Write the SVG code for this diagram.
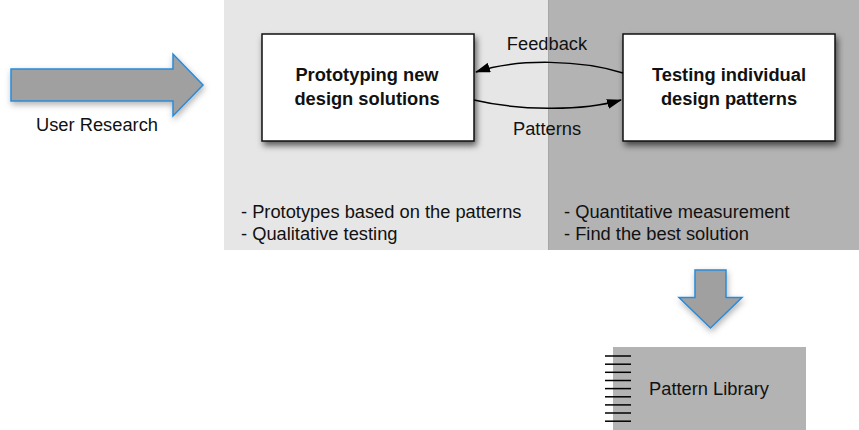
<svg xmlns="http://www.w3.org/2000/svg" width="859" height="430" viewBox="0 0 859 430">
  <defs>
    <filter id="shadow" x="-20%" y="-20%" width="150%" height="160%">
      <feDropShadow dx="2" dy="4" stdDeviation="3" flood-color="#000" flood-opacity="0.6"/>
    </filter>
    <filter id="softshadow" x="-20%" y="-20%" width="150%" height="160%">
      <feDropShadow dx="1" dy="3" stdDeviation="3" flood-color="#000" flood-opacity="0.3"/>
    </filter>
    <marker id="head" viewBox="0 0 15 10" refX="14" refY="5" markerWidth="15" markerHeight="10" markerUnits="userSpaceOnUse" orient="auto">
      <path d="M0,0 L15,5 L0,10 Z" fill="#000"/>
    </marker>
    <style>
      text { font-family: "Liberation Sans", Arial, Helvetica, sans-serif; font-size: 18.3px; fill: #111; }
      .bold { font-weight: bold; }
      .mid { text-anchor: middle; }
      .node { fill: #fff; stroke: #111; stroke-width: 1.5; }
      .bigarrow { fill: #a0a0a0; stroke: #2a8ad8; stroke-width: 1.5; stroke-linejoin: miter; }
      .conn { fill: none; stroke: #000; stroke-width: 1.5; }
    </style>
  </defs>

  <g id="panels">
    <rect x="224" y="0" width="324" height="250" fill="#e6e6e6"/>
    <rect x="548" y="0" width="311" height="250" fill="#b3b3b3"/>
    <line x1="548.5" y1="0" x2="548.5" y2="250" stroke="#a6a6a6" stroke-width="1"/>
    <text x="241" y="218">- Prototypes based on the patterns</text>
    <text x="241" y="240">- Qualitative testing</text>
    <text x="564" y="218">- Quantitative measurement</text>
    <text x="564" y="240">- Find the best solution</text>
  </g>

  <g id="user-research">
    <path class="bigarrow" filter="url(#softshadow)" d="M11,69 L173,69 L173,54 L203,85 L173,116 L173,101 L11,101 Z"/>
    <text class="mid" x="97" y="131">User Research</text>
  </g>

  <g id="node-prototyping">
    <rect class="node" filter="url(#shadow)" x="262" y="34" width="212" height="107"/>
    <text class="bold mid" x="367" y="81">Prototyping new</text>
    <text class="bold mid" x="367" y="105">design solutions</text>
  </g>

  <g id="node-testing">
    <rect class="node" filter="url(#shadow)" x="623" y="34" width="212" height="107"/>
    <text class="bold mid" x="729" y="81">Testing individual</text>
    <text class="bold mid" x="729" y="105">design patterns</text>
  </g>

  <g id="connectors">
    <path class="conn" marker-end="url(#head)" d="M623,73 C582,60 518,58 476,72"/>
    <text class="mid" x="547" y="50">Feedback</text>
    <path class="conn" marker-end="url(#head)" d="M474,100 C516,110 580,112 621,100"/>
    <text class="mid" x="547" y="135">Patterns</text>
  </g>

  <g id="down-arrow">
    <path class="bigarrow" filter="url(#softshadow)" d="M695,270 L726,270 L726,297.5 L742,297.5 L710.5,328 L679,297.5 L695,297.5 Z"/>
  </g>

  <g id="pattern-library">
    <rect x="613" y="347" width="193" height="83" fill="#b3b3b3"/>
    <g stroke="#000" stroke-width="1.5">
      <line x1="605" y1="356" x2="631" y2="356"/>
      <line x1="605" y1="364.2" x2="631" y2="364.2"/>
      <line x1="605" y1="372.3" x2="631" y2="372.3"/>
      <line x1="605" y1="380.5" x2="631" y2="380.5"/>
      <line x1="605" y1="388.6" x2="631" y2="388.6"/>
      <line x1="605" y1="396.8" x2="631" y2="396.8"/>
      <line x1="605" y1="404.9" x2="631" y2="404.9"/>
      <line x1="605" y1="413" x2="631" y2="413"/>
      <line x1="605" y1="421.2" x2="631" y2="421.2"/>
    </g>
    <text class="mid" x="709" y="395">Pattern Library</text>
  </g>
</svg>
